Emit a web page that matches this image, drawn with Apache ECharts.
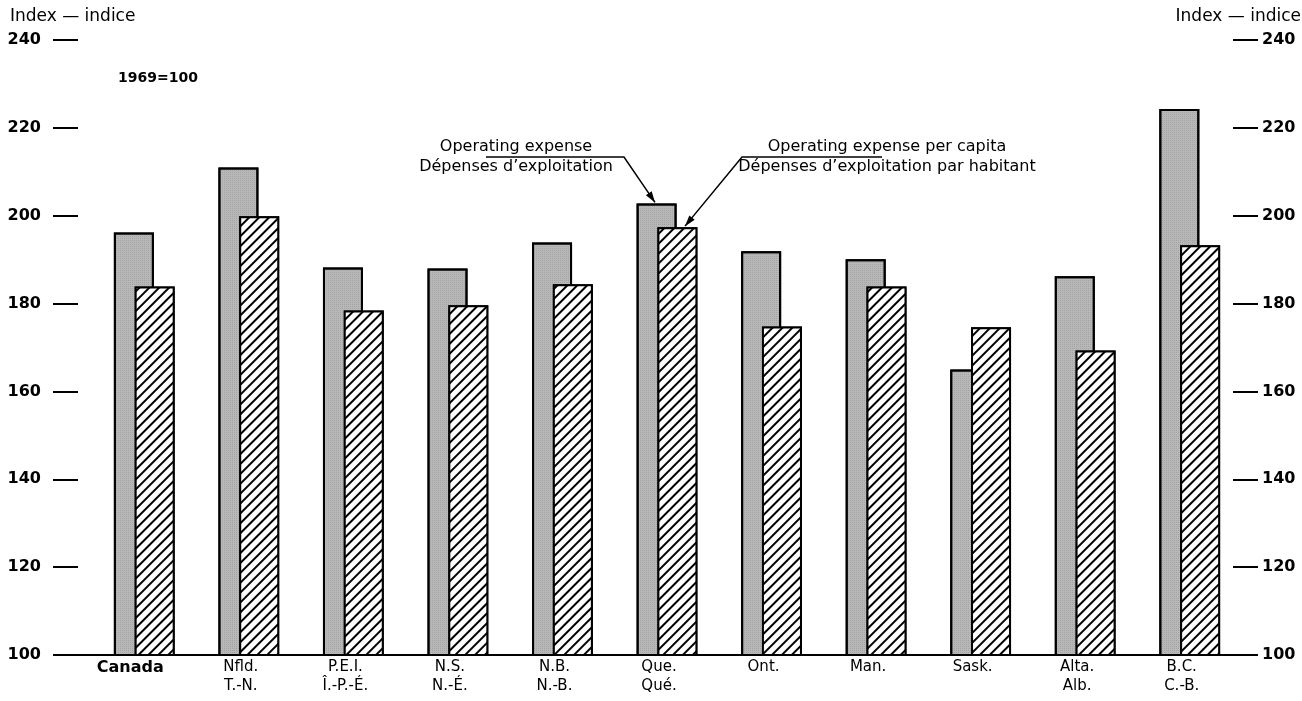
<!DOCTYPE html>
<html>
<head>
<meta charset="utf-8">
<script src="https://cdn.jsdelivr.net/npm/echarts@6/dist/echarts.min.js"></script>
<style>
html,body{margin:0;padding:0;background:#fff;}
#chart{width:1302px;height:701px;}
</style>
</head>
<body>
<div id="chart"></div>
<script>
const categories = ['Canada', 'Nfld.\nT.-N.', 'P.E.I.\nÎ.-P.-É.', 'N.S.\nN.-É.', 'N.B.\nN.-B.', 'Que.\nQué.', 'Ont.', 'Man.', 'Sask.', 'Alta.\nAlb.', 'B.C.\nC.-B.'];
const operatingExpense = [196.2, 211, 188.2, 188.0, 193.9, 202.8, 191.9, 190.1, 165.0, 186.2, 224.3];
const operatingExpensePerCapita = [183.9, 199.9, 178.4, 179.6, 184.4, 197.4, 174.8, 183.9, 174.6, 169.3, 193.3];
const yMin = 100, yMax = 240, yStep = 20;
const seriesNames = ['Operating expense\nDépenses d\u2019exploitation', 'Operating expense per capita\nDépenses d\u2019exploitation par habitant'];

const FONT = '"DejaVu Sans", "Liberation Sans", sans-serif';
const chart = echarts.init(document.getElementById('chart'));

const yAxisCommon = {
  type: 'value', min: yMin, max: yMax, interval: yStep,
  splitLine: {show: false},
  axisLine: {show: false},
  axisTick: {show: true, length: 25, lineStyle: {color: '#000', width: 2}},
  axisLabel: {color: '#000', fontFamily: FONT, fontSize: 16, fontWeight: 'bold'}
};

const staticGraphics = [
  {type: 'text', x: 10, y: 8, style: {text: 'Index — indice', font: '17px ' + FONT, fill: '#000', verticalAlign: 'top'}},
  {type: 'text', x: 1301, y: 8, style: {text: 'Index — indice', font: '17px ' + FONT, fill: '#000', align: 'right', verticalAlign: 'top'}},
  {type: 'text', x: 118, y: 71, style: {text: '1969=100', font: 'bold 14px ' + FONT, fill: '#000', verticalAlign: 'top'}},
  {type: 'text', x: 516, y: 137, style: {text: seriesNames[0], font: '16px ' + FONT, fill: '#000', align: 'center', verticalAlign: 'top', lineHeight: 20}},
  {type: 'text', x: 887, y: 137, style: {text: seriesNames[1], font: '16px ' + FONT, fill: '#000', align: 'center', verticalAlign: 'top', lineHeight: 20}}
];

chart.setOption({
  animation: false,
  backgroundColor: '#fff',
  textStyle: {fontFamily: FONT},
  grid: {left: 92, right: 60, top: 40, bottom: 46, containLabel: false},
  xAxis: {
    type: 'category', data: categories,
    axisLine: {show: true, lineStyle: {color: '#000', width: 2}},
    axisTick: {show: false},
    axisLabel: {
      color: '#000', fontFamily: FONT, fontSize: 15, lineHeight: 19, margin: 3,
      interval: 0, padding: [0, 16, 0, 0],
      formatter: function (v) { return v === 'Canada' ? '{b|Canada}' : v; },
      rich: {b: {fontWeight: 'bold', fontSize: 16, fontFamily: FONT, padding: [0, 12, 0, 0]}}
    }
  },
  yAxis: [
    Object.assign({}, yAxisCommon, {position: 'left', offset: 14, axisLabel: Object.assign({}, yAxisCommon.axisLabel, {margin: 37})}),
    Object.assign({}, yAxisCommon, {position: 'right', offset: -9, axisLabel: Object.assign({}, yAxisCommon.axisLabel, {margin: 29})})
  ],
  series: [
    {
      name: seriesNames[0], type: 'bar', data: operatingExpense,
      barWidth: 40, barGap: '-48%', z: 2,
      itemStyle: {
        color: '#b8b8b8', borderColor: '#000', borderWidth: 2,
        decal: {symbol: 'rect', symbolSize: 0.6, color: 'rgba(70,70,70,0.55)', dashArrayX: [[1, 1]], dashArrayY: [1, 1], rotation: 0}
      }
    },
    {
      name: seriesNames[1], type: 'bar', data: operatingExpensePerCapita,
      barWidth: 40, z: 3,
      itemStyle: {
        color: '#fff', borderColor: '#000', borderWidth: 2,
        decal: {symbol: 'rect', symbolSize: 1, color: '#000', backgroundColor: '#fff', dashArrayX: [[1, 0]], dashArrayY: [1.6, 4.4], rotation: -Math.PI / 4}
      }
    }
  ],
  graphic: staticGraphics
});

// leader lines with arrowheads and baseline extension, positioned from the axis scales
function px(i, v) { return chart.convertToPixel({xAxisIndex: 0, yAxisIndex: 0}, [i, v]); }
function arrowHead(from, tip) {
  const dx = tip[0] - from[0], dy = tip[1] - from[1];
  const len = Math.sqrt(dx * dx + dy * dy), ux = dx / len, uy = dy / len;
  const L = 11, W = 3.5;
  const bx = tip[0] - ux * L, by = tip[1] - uy * L;
  return {type: 'polygon', shape: {points: [tip, [bx - uy * W, by + ux * W], [bx + uy * W, by - ux * W]]}, style: {fill: '#000'}};
}
const iQue = 5;
const cg = px(iQue, operatingExpense[iQue]);
const ch = px(iQue, operatingExpensePerCapita[iQue]);
const tip1 = [cg[0] - 12, cg[1] - 1];
const tip2 = [ch[0] + 18, ch[1] - 1];
const corner1 = [624, 157], corner2 = [742, 157];
const base = px(0, yMin);
chart.setOption({
  graphic: staticGraphics.concat([
    {type: 'polyline', shape: {points: [[486, 157], corner1, tip1]}, style: {stroke: '#000', lineWidth: 1.5, fill: null}},
    arrowHead(corner1, tip1),
    {type: 'polyline', shape: {points: [[882, 157], corner2, tip2]}, style: {stroke: '#000', lineWidth: 1.5, fill: null}},
    arrowHead(corner2, tip2),
    {type: 'line', shape: {x1: 53, y1: base[1], x2: 1258, y2: base[1]}, style: {stroke: '#000', lineWidth: 2}}
  ])
}, {replaceMerge: ['graphic']});
</script>
</body>
</html>
